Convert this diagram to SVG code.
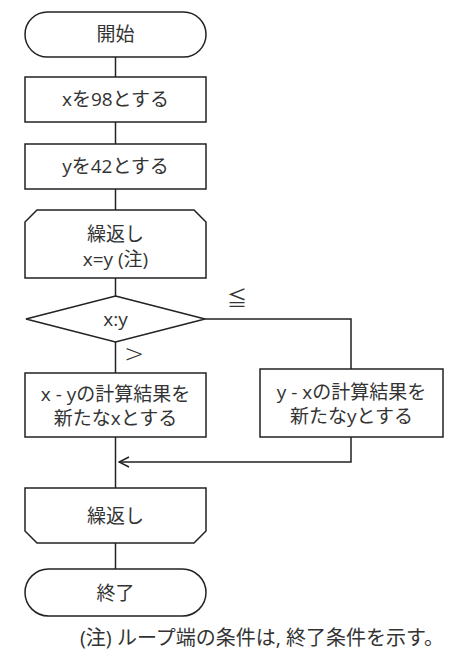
<svg xmlns="http://www.w3.org/2000/svg" width="453" height="655" viewBox="0 0 453 655">
<defs>
<marker id="arr" markerWidth="12" markerHeight="12" refX="11" refY="6" orient="auto" markerUnits="userSpaceOnUse">
<path d="M1,1 L11,6 L1,11" fill="none" stroke="#222" stroke-width="1.5"/>
</marker>
</defs>
<style>
.s{fill:#fff;stroke:#222;stroke-width:1.5}
.c{fill:none;stroke:#222;stroke-width:1.5}
text{font-family:"Open Sans","Noto Sans CJK JP",sans-serif;font-size:19px;fill:#333;text-anchor:middle}
</style>
<rect width="453" height="655" fill="#fff"/>
<g id="connectors">
<line class="c" x1="115.5" y1="57" x2="115.5" y2="77"/>
<line class="c" x1="115.5" y1="122" x2="115.5" y2="144"/>
<line class="c" x1="115.5" y1="189" x2="115.5" y2="210"/>
<line class="c" x1="115.5" y1="278" x2="115.5" y2="296"/>
<line class="c" x1="115.5" y1="342" x2="115.5" y2="373"/>
<polyline class="c" points="205,319 351,319 351,369"/>
<line class="c" x1="115.5" y1="437" x2="115.5" y2="488"/>
<polyline class="c" points="351,437 351,462 119,462" marker-end="url(#arr)"/>
<line class="c" x1="115.5" y1="543" x2="115.5" y2="569"/>
<text x="237" y="306" style="font-size:20px">≦</text>
<text x="134" y="362" style="font-size:24px;font-family:'DejaVu Sans',sans-serif;font-weight:300">&gt;</text>
</g>
<g id="start">
<rect class="s" x="25" y="12" width="181" height="45" rx="22.5"/>
<text x="115.5" y="41">開始</text>
</g>
<g id="setx">
<rect class="s" x="25" y="77" width="181" height="45"/>
<text x="115.5" y="106">xを98とする</text>
</g>
<g id="sety">
<rect class="s" x="25" y="144" width="181" height="45"/>
<text x="115.5" y="173">yを42とする</text>
</g>
<g id="loopstart">
<path class="s" d="M37,210 L194,210 L206,222 L206,278 L25,278 L25,222 Z"/>
<text x="115.5" y="241">繰返し</text>
<text x="115.5" y="266">x=y (注)</text>
</g>
<g id="decision">
<path class="s" d="M115.5,296 L205,319 L115.5,342 L26,319 Z"/>
<text x="115.5" y="326">x:y</text>
</g>
<g id="subx">
<rect class="s" x="25" y="373" width="181" height="64"/>
<text x="115.5" y="401">x - yの計算結果を</text>
<text x="115.5" y="425">新たなxとする</text>
</g>
<g id="suby">
<rect class="s" x="260" y="369" width="183" height="68"/>
<text x="351.5" y="399">y - xの計算結果を</text>
<text x="351.5" y="423">新たなyとする</text>
</g>
<g id="loopend">
<path class="s" d="M25,488 L206,488 L206,531 L194,543 L37,543 L25,531 Z"/>
<text x="115.5" y="523">繰返し</text>
</g>
<g id="end">
<rect class="s" x="25" y="569" width="181" height="47" rx="23.5"/>
<text x="115.5" y="600">終了</text>
</g>
<g id="note">
<text x="262" y="645" style="font-size:20px">(注) ループ端の条件は, 終了条件を示す。</text>
</g>
</svg>
